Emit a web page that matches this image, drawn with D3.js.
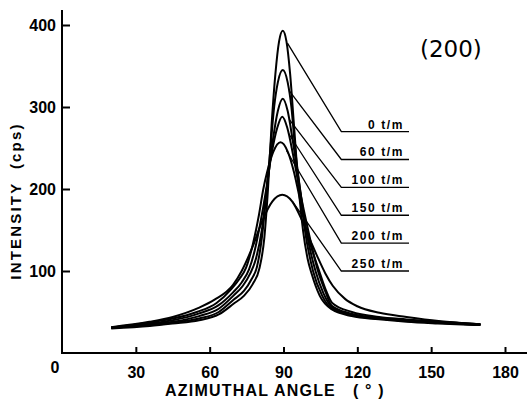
<!doctype html>
<html>
  <head>
    <meta charset="utf8">
    <script src="https://d3js.org/d3.v7.min.js"></script>
    <style type="text/css">
      body { margin: 0; background: #fff; }
      svg { display: block; }
    </style>
  </head>
  <body>
    <script type="text/javascript">
      const w = 527;
      const h = 401;

      // (angle, intensity) for each take-up speed
      const curve0 = [[20,30],[35.7,33],[45,36],[55.7,40],[63.7,47],[69.7,60],[74,70],[77.5,84],[80.2,103],[82.2,140],[83.7,200],[85.2,280],[86.7,340],[88.2,380],[89.7,393],[91.2,380],[92.7,340],[94.2,280],[96.2,200],[98,148],[99.8,115],[101.5,96],[104.7,70],[109.7,53],[117.7,45],[128.7,41],[140,38],[152.7,36],[170,34]];
      const curve60 = [[20,30.5],[35.7,34],[45,37],[55.7,42],[63.7,50],[69.7,65],[74,76],[77,90],[79.2,105],[81.2,140],[83.2,200],[84.7,250],[86.2,300],[87.7,330],[89.7,345],[91.7,330],[93.2,300],[94.7,250],[96.7,200],[98.7,150],[102,100],[105.7,70],[109.7,54],[117.7,46],[128.7,42],[140,39],[152.7,37],[170,34.5]];
      const curve100 = [[20,31],[35.7,35],[45,38],[55.7,45],[63.7,54],[69.7,70],[73.5,82],[76.5,97],[78.8,115],[81.2,150],[83.2,200],[85.7,260],[87.7,295],[89.7,310],[91.7,295],[93.7,260],[96.7,200],[99.2,150],[103,100],[106.2,73],[109.7,56],[117.7,47],[128.7,42],[140,39],[152.7,37],[170,34.5]];
      const curve150 = [[20,31],[35.5,36],[45,40],[55.5,48],[63.5,58],[69.5,74],[73,86],[76,102],[78.3,125],[80.5,157],[83,200],[85,240],[87.5,275],[89.5,288],[91.5,275],[94,240],[96.5,200],[100,150],[104,100],[107,75],[109.5,58],[117.5,48],[128.5,43],[140,40],[152.5,38],[170,35]];
      const curve200 = [[20,31],[34.8,37],[45,42],[54.8,50],[62.8,61],[68.8,78],[72,90],[74.8,104],[77.5,132],[80,168],[81.8,200],[83.3,220],[85.8,245],[88.8,257],[91.8,245],[94.3,220],[95.8,200],[99.3,150],[104.5,100],[107.3,76],[109.8,61],[117.8,50],[128.8,44],[140,41],[152.8,38],[170,35]];
      const curve250 = [[20,31.5],[35.5,38],[45,44],[55.5,55],[62,65],[69.5,83],[73,100],[77.5,130],[81.5,162],[85.5,185],[89.5,193],[93.5,185],[97.5,162],[101.5,133],[104,116],[107,97],[110,82],[115,66],[120,57],[129,49],[140,44],[153,39],[170,35]];

      const curves = [curve0, curve60, curve100, curve150, curve200, curve250];
      const labels = ['0 t/m', '60 t/m', '100 t/m', '150 t/m', '200 t/m', '250 t/m'];

      // leader lines: start on each peak, end at a label shelf
      const leaderStart = [[91.6,378],[92.3,320],[92.3,285],[92,268],[91.2,247],[93.6,185]];
      const shelfLevel = [270, 236, 202, 168, 134, 100];
      const shelfFrom = 113.5;
      const shelfTo = 141;

      const xTicks = [30, 60, 90, 120, 150, 180];
      const yTicks = [100, 200, 300, 400];

      const x = d3.scaleLinear().domain([0, 180]).range([62, 505]);
      const y = d3.scaleLinear().domain([0, 400]).range([353, 25]);

      const svg = d3.select('body')
        .append('svg')
        .attr('width', w)
        .attr('height', h);

      // axes
      const yAxis = svg.append('g')
        .attr('transform', 'translate(' + x(0) + ',0)')
        .call(d3.axisLeft(y).tickValues(yTicks).tickSize(-8).tickPadding(12));
      yAxis.select('.domain').remove();

      const xAxis = svg.append('g')
        .attr('transform', 'translate(0,' + y(0) + ')')
        .call(d3.axisBottom(x).tickValues(xTicks).tickSize(-6).tickPadding(14));
      xAxis.select('.domain').remove();

      svg.selectAll('.tick line')
        .attr('stroke', '#000')
        .attr('stroke-width', 2);
      svg.selectAll('.tick text')
        .attr('font-family', 'Liberation Sans, Arial, sans-serif')
        .attr('font-weight', 'bold')
        .attr('font-size', '16px')
        .attr('fill', '#000');
      yAxis.selectAll('.tick text').attr('dx', 6);

      svg.append('line')
        .attr('x1', x(0)).attr('x2', x(0))
        .attr('y1', 10).attr('y2', y(0) + 1)
        .attr('stroke', '#000').attr('stroke-width', 2);
      svg.append('line')
        .attr('x1', x(0) - 1).attr('x2', w)
        .attr('y1', y(0)).attr('y2', y(0))
        .attr('stroke', '#000').attr('stroke-width', 2);

      svg.append('text')
        .attr('x', x(0) - 7)
        .attr('y', y(0) + 20)
        .attr('text-anchor', 'middle')
        .attr('font-family', 'Liberation Sans, Arial, sans-serif')
        .attr('font-weight', 'bold')
        .attr('font-size', '16px')
        .text('0');

      // curves
      const line = d3.line()
        .x((d) => x(d[0]))
        .y((d) => y(d[1]))
        .curve(d3.curveMonotoneX);

      svg.selectAll('path.curve')
        .data(curves)
        .enter()
        .append('path')
        .attr('class', 'curve')
        .attr('d', line)
        .attr('fill', 'none')
        .attr('stroke', '#000')
        .attr('stroke-width', 2);

      // leaders and shelves
      const leaders = svg.selectAll('g.leader')
        .data(labels)
        .enter()
        .append('g')
        .attr('class', 'leader');

      leaders.append('polyline')
        .attr('points', (d, i) => [
          [x(leaderStart[i][0]), y(leaderStart[i][1])],
          [x(shelfFrom), y(shelfLevel[i])],
          [x(shelfTo), y(shelfLevel[i])]
        ].join(' '))
        .attr('fill', 'none')
        .attr('stroke', '#000')
        .attr('stroke-width', 1.3);

      leaders.append('text')
        .attr('x', x(shelfTo) - 5)
        .attr('y', (d, i) => y(shelfLevel[i]) - 3)
        .attr('text-anchor', 'end')
        .attr('font-family', 'Liberation Sans, Arial, sans-serif')
        .attr('font-size', '12px')
        .attr('font-weight', 'bold')
        .attr('letter-spacing', '1.6px')
        .text((d) => d);

      // titles
      svg.append('text')
        .attr('x', 420)
        .attr('y', 57)
        .attr('font-family', 'DejaVu Sans, sans-serif')
        .attr('font-size', '23px')
        .text('(200)');

      svg.append('text')
        .attr('transform', 'translate(21,201) rotate(-90)')
        .attr('text-anchor', 'middle')
        .attr('font-family', 'Liberation Sans, Arial, sans-serif')
        .attr('font-weight', 'bold')
        .attr('font-size', '15px')
        .attr('letter-spacing', '2.2px')
        .style('white-space', 'pre')
        .text('INTENSITY  (cps)');

      svg.append('text')
        .attr('x', 275)
        .attr('y', 396)
        .attr('text-anchor', 'middle')
        .attr('font-family', 'Liberation Sans, Arial, sans-serif')
        .attr('font-weight', 'bold')
        .attr('font-size', '16px')
        .attr('letter-spacing', '1.2px')
        .style('white-space', 'pre')
        .text('AZIMUTHAL ANGLE   ( ° )');
    </script>
  </body>
</html>
